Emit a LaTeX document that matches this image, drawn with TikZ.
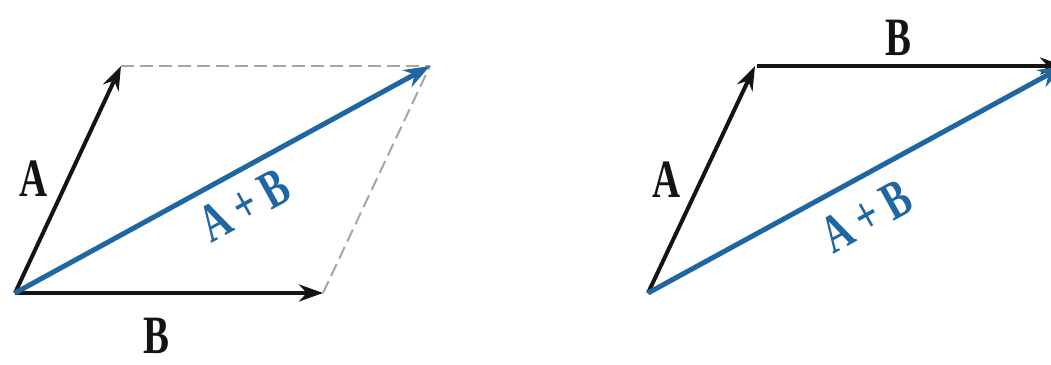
\documentclass[tikz,border=0pt]{standalone}
\usepackage{fontspec}
\setmainfont{Liberation Serif}
\newfontfamily\lblfont[FakeStretch=0.72]{Liberation Serif Bold}
\usetikzlibrary{arrows.meta}
\definecolor{vblue}{RGB}{32,102,162}
\definecolor{dgray}{RGB}{165,165,165}
\definecolor{vblack}{RGB}{20,20,20}
\begin{document}
\begin{tikzpicture}[x=1pt,y=-1pt,
  vec/.style={line width=4pt,draw=vblack,-{Stealth[length=24pt,width=17pt]}},
  sumvec/.style={line width=5pt,draw=vblue,-{Stealth[length=26pt,width=19pt]}},
  guide/.style={line width=2pt,draw=dgray,dash pattern=on 13pt off 6pt},
  lbl/.style={font=\lblfont\fontsize{54}{54}\selectfont,text=vblack,inner sep=0pt},
  sumlbl/.style={font=\lblfont\fontsize{54}{54}\selectfont,text=vblue,inner sep=0pt,rotate=29}]
\useasboundingbox (0,0) rectangle (1051,364);
\clip (0,0) rectangle (1051,364);
% left parallelogram
\coordinate (O1) at (15,293);
\coordinate (A1) at (121,66);
\coordinate (B1) at (323,293);
\coordinate (C1) at (430,66);
\draw[guide] (A1) -- (C1);
\draw[guide] (B1) -- (C1);
\draw[vec] (O1) -- (A1);
\draw[vec] (O1) -- (B1);
\draw[sumvec] (O1) -- (C1);
\node[lbl] (la1) at (34,179) {A};
\node[lbl] (lb1) at (156,336) {B};
\node[sumlbl] (ls1) at (244,205) {A\,+\,B};
% right triangle
\coordinate (O2) at (648,293);
\coordinate (A2) at (755,66);
\coordinate (A2s) at (757,66);
\coordinate (C2) at (1064,66);
\draw[vec] (O2) -- (A2);
\draw[vec] (A2s) -- (C2);
\draw[sumvec] (O2) -- (C2);
\node[lbl] (la2) at (667,180) {A};
\node[lbl] (lb2) at (898,38) {B};
\node[sumlbl] (ls2) at (866,216) {A\,+\,B};
\end{tikzpicture}
\end{document}
